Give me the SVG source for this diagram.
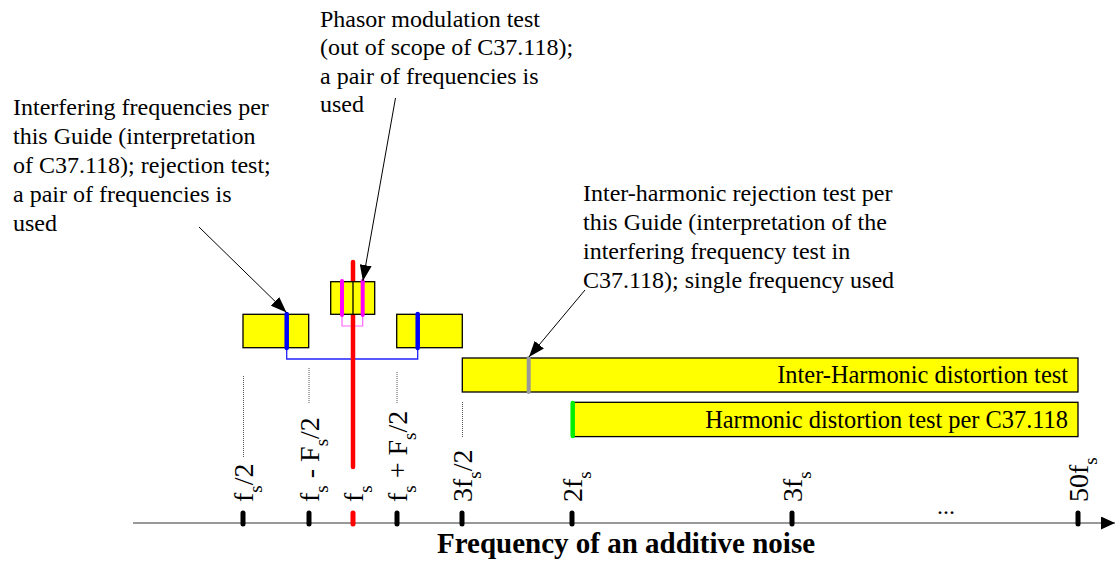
<svg xmlns="http://www.w3.org/2000/svg" width="1115" height="562" viewBox="0 0 1115 562">
<defs>
<marker id="ah" viewBox="0 0 16 12" refX="16" refY="6" markerWidth="16" markerHeight="12" markerUnits="userSpaceOnUse" orient="auto">
<path d="M0,0 L16,6 L0,12 Z" fill="#000"/>
</marker>
<marker id="axh" viewBox="0 0 14 13" refX="14" refY="6.5" markerWidth="14" markerHeight="13" markerUnits="userSpaceOnUse" orient="auto">
<path d="M0,0 L14,6.5 L0,13 Z" fill="#000"/>
</marker>
</defs>
<style>
.t{font-family:"Liberation Serif","Times New Roman",serif;font-size:24px;fill:#000}
.tb{font-size:24.4px}
.tl{font-family:"Liberation Serif","Times New Roman",serif;font-size:28px;fill:#000}
.sub{font-size:19px}
.box{fill:#ffff00;stroke:#000;stroke-width:1.3}
.tick{stroke:#000;stroke-width:5;stroke-linecap:round}
.dot{stroke:#555;stroke-width:1;stroke-dasharray:1,1}
.lead{stroke:#000;stroke-width:1;fill:none}
</style>
<g id="axis">
<line x1="133" y1="523" x2="1115" y2="523" stroke="#777" stroke-width="1.6" marker-end="url(#axh)"/>
<text x="626" y="553" text-anchor="middle" style="font-family:'Liberation Serif','Times New Roman',serif;font-size:29px;font-weight:bold">Frequency of an additive noise</text>
<text class="t" x="937" y="514">...</text>
</g>
<g id="ticks">
<line class="tick" x1="243" y1="513" x2="243" y2="524"/>
<line class="tick" x1="309" y1="513" x2="309" y2="524"/>
<line class="tick" x1="353" y1="513" x2="353" y2="524" style="stroke:#ff0000"/>
<line class="tick" x1="397" y1="513" x2="397" y2="524"/>
<line class="tick" x1="462" y1="513" x2="462" y2="524"/>
<line class="tick" x1="572" y1="513" x2="572" y2="524"/>
<line class="tick" x1="792" y1="513" x2="792" y2="524"/>
<line class="tick" x1="1078" y1="513" x2="1078" y2="524"/>
</g>
<g id="tick-labels">
<text class="tl" transform="translate(253,502) rotate(-90)">f<tspan class="sub" dy="9">s</tspan><tspan dy="-9">/2</tspan></text>
<text class="tl" transform="translate(319,502) rotate(-90)">f<tspan class="sub" dy="9">s</tspan><tspan dy="-9"> - F</tspan><tspan class="sub" dy="9">s</tspan><tspan dy="-9">/2</tspan></text>
<text class="tl" transform="translate(363,502) rotate(-90)">f<tspan class="sub" dy="9">s</tspan></text>
<text class="tl" transform="translate(407,502) rotate(-90)">f<tspan class="sub" dy="9">s</tspan><tspan dy="-9"> + F</tspan><tspan class="sub" dy="9">s</tspan><tspan dy="-9">/2</tspan></text>
<text class="tl" transform="translate(472,502) rotate(-90)">3f<tspan class="sub" dy="9">s</tspan><tspan dy="-9">/2</tspan></text>
<text class="tl" transform="translate(582,502) rotate(-90)">2f<tspan class="sub" dy="9">s</tspan></text>
<text class="tl" transform="translate(802,502) rotate(-90)">3f<tspan class="sub" dy="9">s</tspan></text>
<text class="tl" transform="translate(1088,502) rotate(-90)">50f<tspan class="sub" dy="9">s</tspan></text>
</g>
<g id="dotted-leaders">
<line class="dot" x1="243.5" y1="376" x2="243.5" y2="457"/>
<line class="dot" x1="309" y1="368" x2="309" y2="403"/>
<line class="dot" x1="397" y1="372" x2="397" y2="403"/>
<line class="dot" x1="462.5" y1="402" x2="462.5" y2="437"/>
</g>
<g id="brackets">
<polyline points="286.7,349 286.7,359 417.7,359 417.7,349" fill="none" stroke="#2222ff" stroke-width="1.3"/>
<polyline points="342,316 342,326 362.7,326 362.7,316" fill="none" stroke="#ff66ff" stroke-width="1.2"/>
</g>
<g id="fundamental">
<line x1="353" y1="262" x2="353" y2="467" stroke="#ff0000" stroke-width="4.5" stroke-linecap="round"/>
</g>
<g id="box-left">
<rect class="box" x="243" y="314.3" width="65.7" height="33.4"/>
<line x1="286.7" y1="314" x2="286.7" y2="348" stroke="#0000ff" stroke-width="4.5" stroke-linecap="round"/>
</g>
<g id="box-right">
<rect class="box" x="396.7" y="314.3" width="65.6" height="33.4"/>
<line x1="417.7" y1="314" x2="417.7" y2="348" stroke="#0000ff" stroke-width="4.5" stroke-linecap="round"/>
</g>
<g id="box-middle">
<rect class="box" x="330.7" y="281.7" width="44" height="32.6"/>
<line x1="353" y1="281.7" x2="353" y2="314.3" stroke="#000" stroke-width="1.3"/>
<line x1="342" y1="281" x2="342" y2="315" stroke="#ff00ff" stroke-width="4" stroke-linecap="round"/>
<line x1="362.7" y1="281" x2="362.7" y2="315" stroke="#ff00ff" stroke-width="4" stroke-linecap="round"/>
</g>
<g id="bar-interharmonic">
<rect class="box" x="462.3" y="358" width="615.7" height="34"/>
<line x1="528.7" y1="358" x2="528.7" y2="392" stroke="#999" stroke-width="4" stroke-linecap="round"/>
<text class="t tb" x="1068" y="383" text-anchor="end">Inter-Harmonic distortion test</text>
</g>
<g id="bar-harmonic">
<rect class="box" x="572.7" y="402.3" width="505.3" height="34.3"/>
<line x1="572.7" y1="403" x2="572.7" y2="436" stroke="#00ee00" stroke-width="4.5" stroke-linecap="round"/>
<text class="t tb" x="1068" y="428" text-anchor="end">Harmonic distortion test per C37.118</text>
</g>
<g id="note-interfering">
<text class="t"><tspan x="13" y="115">Interfering frequencies per</tspan><tspan x="13" y="144">this Guide (interpretation</tspan><tspan x="13" y="173">of C37.118); rejection test;</tspan><tspan x="13" y="202">a pair of frequencies is</tspan><tspan x="13" y="231">used</tspan></text>
</g>
<g id="note-phasor">
<text class="t"><tspan x="320" y="27">Phasor modulation test</tspan><tspan x="320" y="55">(out of scope of C37.118);</tspan><tspan x="320" y="84">a pair of frequencies is</tspan><tspan x="320" y="112">used</tspan></text>
</g>
<g id="note-interharmonic">
<text class="t"><tspan x="583" y="201">Inter-harmonic rejection test per</tspan><tspan x="583" y="230">this Guide (interpretation of the</tspan><tspan x="583" y="259">interfering frequency test in</tspan><tspan x="583" y="288">C37.118); single frequency used</tspan></text>
</g>
<g id="connectors">
<line class="lead" x1="199" y1="227" x2="286.5" y2="312.5" marker-end="url(#ah)"/>
<line class="lead" x1="395.5" y1="98" x2="362.9" y2="281" marker-end="url(#ah)"/>
<line class="lead" x1="585" y1="290" x2="529" y2="357" marker-end="url(#ah)"/>
</g>
</svg>
